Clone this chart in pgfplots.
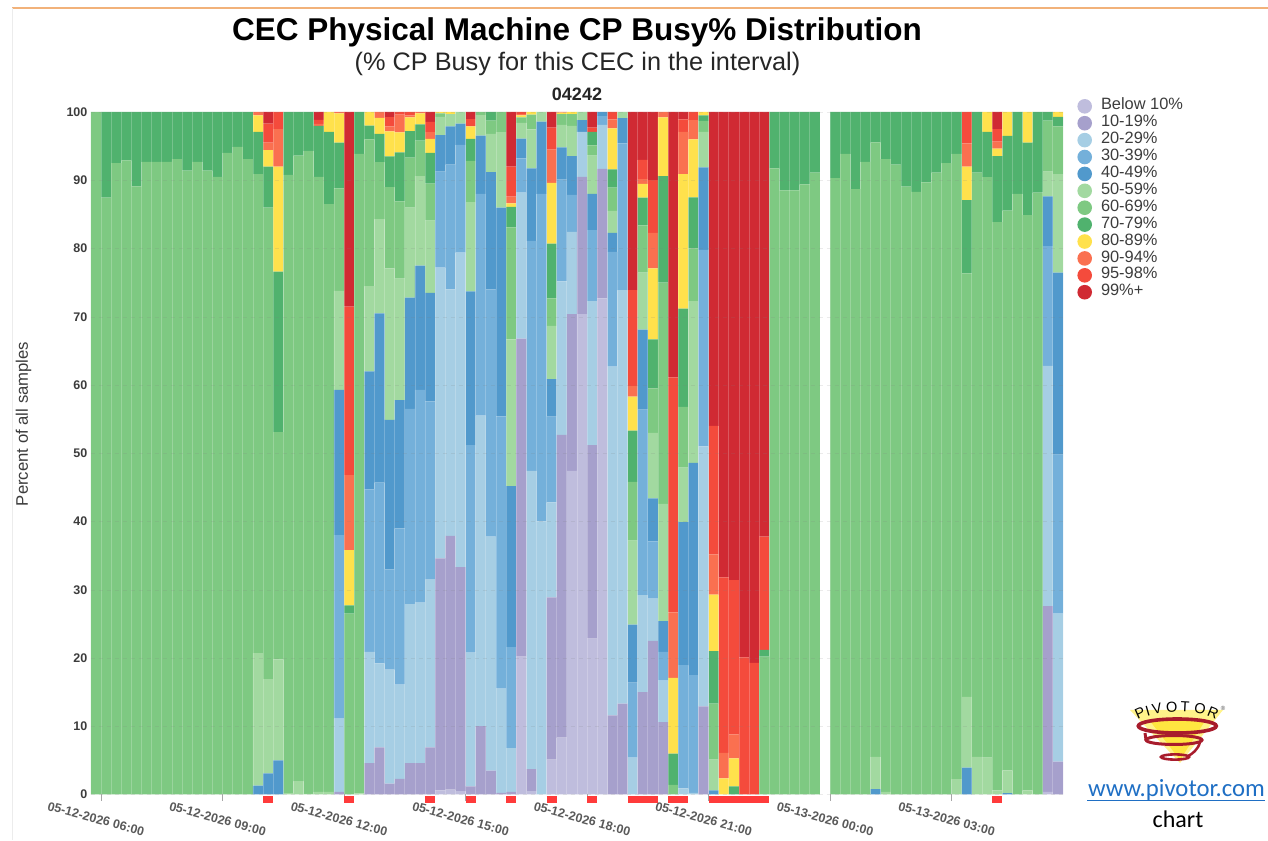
\documentclass[border=0pt]{standalone}
\usepackage{fontspec}
\setmainfont{Liberation Sans}
\newfontfamily\carlitofont{Carlito}
\usepackage{pgfplots}
\usepackage{pgfplotstable}
\pgfplotsset{compat=1.18}

\definecolor{ca}{HTML}{BFBDDD}
\definecolor{cb}{HTML}{A6A0CC}
\definecolor{cc}{HTML}{A6CEE4}
\definecolor{cd}{HTML}{74B0DA}
\definecolor{ce}{HTML}{5199CC}
\definecolor{cf}{HTML}{A2D9A0}
\definecolor{cg}{HTML}{7EC982}
\definecolor{ch}{HTML}{50B26E}
\definecolor{ci}{HTML}{FFE14C}
\definecolor{cj}{HTML}{FA7050}
\definecolor{cl}{HTML}{F44B3C}
\definecolor{cm}{HTML}{D02A33}
\definecolor{redmark}{HTML}{FF3B3B}
\definecolor{txt}{HTML}{3C3C3C}
\definecolor{frameline}{HTML}{F2B27A}
\definecolor{linkblue}{HTML}{1F6FC4}
\definecolor{swirl}{HTML}{A81C2C}
\definecolor{conepale}{HTML}{FFF38A}
\definecolor{conecore}{HTML}{FFE640}

% one row per 15 minute interval, percent of samples per busy band
\pgfplotstableread{
k a b c d e f g h i j l m
0 0 0 0 0 0 0 100 0 0 0 0 0
1 0 0 0 0 0 0 87.45 12.55 0 0 0 0
2 0 0 0 0 0 0 92.5 7.5 0 0 0 0
3 0 0 0 0 0 0 92.9 7.1 0 0 0 0
4 0 0 0 0 0 0 89.1 10.9 0 0 0 0
5 0 0 0 0 0 0 92.7 7.3 0 0 0 0
6 0 0 0 0 0 0 92.7 7.3 0 0 0 0
7 0 0 0 0 0 0 92.7 7.3 0 0 0 0
8 0 0 0 0 0 0 93.1 6.9 0 0 0 0
9 0 0 0 0 0 0 91.4 8.6 0 0 0 0
10 0 0 0 0 0 0 92.7 7.3 0 0 0 0
11 0 0 0 0 0 0 91.4 8.6 0 0 0 0
12 0 0 0 0 0 0 90.5 9.5 0 0 0 0
13 0 0 0 0 0 0 94 6 0 0 0 0
14 0 0 0 0 0 0 94.9 5.1 0 0 0 0
15 0 0 0 0 0 0 93.1 6.9 0 0 0 0
16 0 0 0 0 1.3 19.4 70.2 6.2 2.4 .5 0 0
17 0 0 0 0 3.1 13.8 69.1 6 2.4 1.1 2.8 1.7
18 0 0 0 0 5 14.8 33.3 23.5 15.4 5.5 2.5 0
19 0 0 0 0 0 .2 90.6 9.2 0 0 0 0
20 0 0 0 0 0 1.95 91.65 6.4 0 0 0 0
21 0 0 0 0 0 .1 94.2 5.7 0 0 0 0
22 0 0 0 0 0 .4 90.1 7.45 0 .3 .6 1.15
23 0 0 0 0 0 .4 86.1 10.6 2.9 0 0 0
24 0 .4 10.7 26.9 21.3 14.5 15 6.7 4.3 .2 0 0
25 0 0 0 0 0 0 26.5 1.2 8.1 11 24.7 28.5
26 0 0 0 0 0 .15 93.7 6.15 0 0 0 0
27 0 4.6 16.3 23.8 17.3 12.5 21.5 2 2 0 0 0
28 0 6.9 12.3 26.5 24.8 13.8 8.35 4.15 2.35 .85 0 0
29 0 1.6 16.7 14.7 21.9 22.2 11.9 4.5 3.65 .75 1.35 .75
30 0 2.3 13.8 22.9 18.8 17.8 11.3 7.2 2.9 2.6 .4 0
31 0 4.6 23.3 28.6 16.3 13.2 7.3 3.9 2 .3 .5 0
32 0 4.6 23.5 31.2 18.2 13.1 5.2 2.4 1.6 .2 0 0
33 0 6.9 24.6 26.1 15.9 10.6 5.4 4.5 2.05 1 1.5 1.45
34 .6 34 42.6 14.05 5.35 2.7 .5 0 .2 0 0 0
35 .7 37.2 36.1 18.3 5.6 1.8 0 0 .3 0 0 0
36 .5 32.8 46.1 15.8 3.1 1.7 0 0 0 0 0 0
37 0 1.2 19.6 30.4 22.5 13.1 6.05 3.2 1.85 0 1.05 1.05
38 0 10 45.5 32.5 8.55 3 .45 0 0 0 0 0
39 0 3.5 34.3 36.2 17.2 5.6 1.95 1.25 0 0 0 0
40 0 .25 15.25 39.9 30.6 11.05 2.95 0 0 0 0 0
41 0 .4 6.4 14.8 23.6 21.5 16.4 3 .5 1 4.4 8
42 20.2 46.6 21.4 5 2.9 2.3 .8 0 .3 .2 .3 0
43 .5 3.2 43.7 33.7 10.65 5.7 2.15 0 .4 0 0 0
44 0 0 40 48 10.6 1.4 0 0 0 0 0 0
45 5.1 23.8 13.9 12.55 5.5 7.8 4.05 8 8.9 4.9 3.2 2.3
46 8.35 44.35 22.5 14.9 4.7 3.3 1.6 0 .2 .1 0 0
47 47.4 23 12.05 5.4 5.7 4.4 1.75 0 .3 0 0 0
48 70.4 20.1 6.6 0 1.7 1.2 0 0 0 0 0 0
49 22.85 28.35 21.1 10.4 5.3 5.6 1.5 2 0 0 .6 2.3
50 72.7 18.95 6.45 1.3 .6 0 0 0 0 0 0 0
51 0 11.6 51.1 16.8 2.8 3.2 3.4 2.7 6 1.3 1.1 0
52 0 13.3 60.6 21.5 3.7 .9 0 0 0 0 0 0
53 0 0 5.4 11 8.5 12.3 8.6 7.5 5 1.55 14.05 26.1
54 0 15 14.2 27.2 11.7 8.35 6.95 4.05 2 .7 2.85 7
55 0 22.5 6.2 8.4 6.3 9.6 6.5 7.2 10.4 5.2 7.7 10
56 0 10.6 6.1 4.2 4.5 17.2 32.4 15.6 8.6 .8 0 0
57 0 0 0 0 0 0 1.4 4.6 11.1 9.6 34.4 38.9
58 0 0 .9 18.05 20.95 8 8.9 14.4 19.7 6.2 1.8 1.1
59 0 0 .25 17.25 31.1 23.7 7.7 7.5 8.5 2.8 1.2 0
60 0 12.9 38.1 28.8 12.1 5.2 1.6 .8 .5 0 0 0
61 0 0 0 0 .6 4.5 8.2 7.7 8.3 5.9 18.8 46
62 0 0 0 0 0 0 0 0 2.35 3.75 25.7 68.2
63 0 0 0 0 0 0 0 1.2 4.1 3.5 22.6 68.6
64 0 0 0 0 0 0 0 0 0 0 20.1 79.9
65 0 0 0 0 0 0 0 0 0 0 19.3 80.7
66 0 0 0 0 0 0 20.2 1 0 0 16.6 62.2
67 0 0 0 0 0 0 91.75 8.25 0 0 0 0
68 0 0 0 0 0 0 88.5 11.5 0 0 0 0
69 0 0 0 0 0 0 88.5 11.5 0 0 0 0
70 0 0 0 0 0 0 89.4 10.6 0 0 0 0
71 0 0 0 0 0 0 91.1 8.9 0 0 0 0
72 0 0 0 0 0 0 0 0 0 0 0 0
73 0 0 0 0 0 0 90.3 9.7 0 0 0 0
74 0 0 0 0 0 0 93.85 6.15 0 0 0 0
75 0 0 0 0 0 0 88.7 11.3 0 0 0 0
76 0 0 0 0 0 0 92.7 7.3 0 0 0 0
77 0 0 0 0 .8 4.7 90.05 4.45 0 0 0 0
78 0 0 0 0 0 .4 92.7 6.9 0 0 0 0
79 0 0 0 0 0 0 92.3 7.7 0 0 0 0
80 0 0 0 0 0 0 89.05 10.95 0 0 0 0
81 0 0 0 0 0 0 88.3 11.7 0 0 0 0
82 0 0 0 0 0 0 89.7 10.3 0 0 0 0
83 0 0 0 0 0 0 91.1 8.9 0 0 0 0
84 0 0 0 0 0 0 92.5 7.5 0 0 0 0
85 0 0 0 0 0 2.25 91.6 6.15 0 0 0 0
86 0 0 0 0 3.95 10.35 62.05 10.75 4.9 3.4 4.6 0
87 0 0 0 0 0 5.5 85.6 8.9 0 0 0 0
88 0 0 0 0 0 5.4 85.05 6.65 2.9 0 0 0
89 0 0 0 0 0 .6 83.25 9.7 1.1 1 1.85 2.5
90 0 0 0 0 .2 3.35 82 10.95 3.5 0 0 0
91 0 0 0 0 0 0 88 12 0 0 0 0
92 0 0 0 0 0 .6 84.3 10.6 4.5 0 0 0
93 0 0 0 0 0 0 88.2 11.8 0 0 0 0
94 .4 27.2 35.2 17.55 7.3 3.6 7.5 1.25 0 0 0 0
95 0 4.8 21.7 23.3 26.65 14.45 7 1.4 .7 0 0 0
}\busy

\begin{document}
\begin{tikzpicture}[x=1pt,y=1pt]
\useasboundingbox (0,0) rectangle (1268,840);

% frame remains of the report page
\draw[color=frameline,line width=1.2pt] (12,832) -- (1268,832);
\draw[color=gray!15,line width=.8pt] (12,832) -- (12,0);

\node[font=\fontsize{31.5}{34}\selectfont\bfseries,text=black] at (577,807.5) {CEC Physical Machine CP Busy\% Distribution};
\node[font=\fontsize{25.3}{28}\selectfont,text=black!85] at (577.5,776.5) {(\% CP Busy for this CEC in the interval)};
\node[font=\fontsize{18}{20}\selectfont\bfseries,text=black!85] at (577,745.5) {04242};

\begin{axis}[
  at={(90.9pt,45.5pt)}, anchor=south west,
  scale only axis, width=972.1pt, height=682.5pt,
  ybar stacked, bar width=1,
  xmin=-0.5, xmax=95.5, ymin=0, ymax=100,
  axis on top,
  axis line style={draw=none},
  ytick={0,10,...,100},
  ymajorgrids,
  major grid style={gray,opacity=.16,dash pattern=on 4pt off 4pt},
  xtick={0.5,12.5,24.5,36.5,48.5,60.5,72.5,84.5},
  xticklabels={05-12-2026 06:00,05-12-2026 09:00,05-12-2026 12:00,05-12-2026 15:00,05-12-2026 18:00,05-12-2026 21:00,05-13-2026 00:00,05-13-2026 03:00},
  minor xtick={-0.5,0.5,...,95.5},
  xminorgrids,
  minor x grid style={white,opacity=.22,line width=.8pt},
  minor tick length=0pt,
  major tick length=6pt,
  tick align=outside,
  xtick pos=bottom, ytick pos=left,
  x tick style={draw=gray!70,line width=.7pt},
  y tick style={draw=none},
  yticklabel style={font=\fontsize{12.5}{14}\selectfont\bfseries,text=txt,/pgf/number format/assume math mode=true,xshift=6pt},
  xticklabel style={font=\fontsize{12.5}{14}\selectfont\bfseries,text=black!65,rotate=-15,anchor=center,xshift=0pt,yshift=-19pt},
  ylabel={Percent of all samples},
  ylabel style={font=\fontsize{16.7}{18}\selectfont,text=txt,at={(axis description cs:0,0.543)},anchor=south,yshift=56pt},
  legend image code/.code={\fill[#1] (0pt,0pt) circle (7.3pt);},
  legend cell align=left,
  legend style={
    at={(axis description cs:1.0146,1.021)}, anchor=north west,
    draw=none, fill=none, inner sep=0pt, row sep=0pt, column sep=9pt,
    font=\fontsize{16.4}{17}\selectfont, text=txt,
    nodes={inner sep=0pt,text height=12.1pt,text depth=4.8pt},
  },
]
\addplot[fill=ca,draw=none] table[x=k,y=a] {\busy};
\addlegendentry{Below 10\%}
\addplot[fill=cb,draw=none] table[x=k,y=b] {\busy};
\addlegendentry{10-19\%}
\addplot[fill=cc,draw=none] table[x=k,y=c] {\busy};
\addlegendentry{20-29\%}
\addplot[fill=cd,draw=none] table[x=k,y=d] {\busy};
\addlegendentry{30-39\%}
\addplot[fill=ce,draw=none] table[x=k,y=e] {\busy};
\addlegendentry{40-49\%}
\addplot[fill=cf,draw=none] table[x=k,y=f] {\busy};
\addlegendentry{50-59\%}
\addplot[fill=cg,draw=none] table[x=k,y=g] {\busy};
\addlegendentry{60-69\%}
\addplot[fill=ch,draw=none] table[x=k,y=h] {\busy};
\addlegendentry{70-79\%}
\addplot[fill=ci,draw=none] table[x=k,y=i] {\busy};
\addlegendentry{80-89\%}
\addplot[fill=cj,draw=none] table[x=k,y=j] {\busy};
\addlegendentry{90-94\%}
\addplot[fill=cl,draw=none] table[x=k,y=l] {\busy};
\addlegendentry{95-98\%}
\addplot[fill=cm,draw=none] table[x=k,y=m] {\busy};
\addlegendentry{99\%+}
\end{axis}

% red flags under the intervals that hit the ceiling
\begin{axis}[
  at={(90.9pt,45.5pt)}, anchor=south west,
  scale only axis, width=972.1pt, height=682.5pt,
  xmin=-0.5, xmax=95.5, ymin=0, ymax=100,
  hide axis, clip=false,
]
\addplot[color=redmark,line width=7pt,unbounded coords=jump] table {
x y
16.5 -.7
17.5 -.7
nan nan
24.5 -.7
25.5 -.7
nan nan
32.5 -.7
33.5 -.7
nan nan
36.5 -.7
37.5 -.7
nan nan
40.5 -.7
41.5 -.7
nan nan
44.5 -.7
45.5 -.7
nan nan
48.5 -.7
49.5 -.7
nan nan
52.5 -.7
55.5 -.7
nan nan
56.5 -.7
58.5 -.7
nan nan
60.5 -.7
66.5 -.7
nan nan
88.5 -.7
89.5 -.7
};
\end{axis}

% Pivotor logo
\fill[color=conepale] (1130,130) -- (1223,130) -- (1180,77) -- cycle;
\fill[color=conecore] (1150,119) -- (1205,119) -- (1180,80) -- cycle;
\draw[color=swirl,line width=3.6pt] (1177.3,114) ellipse (39 and 7);
\draw[color=swirl,line width=3pt] (1174,100) ellipse (28 and 4.5);
\draw[color=swirl,line width=2.6pt] (1175,83) ellipse (14 and 2.6);
\draw[color=swirl,line width=3pt] (1146,100) -- (1145,107);
\draw[color=swirl,line width=2.5pt] (1200,98) .. controls (1198,90) and (1192,86) .. (1188,84);
\begin{scope}[font=\fontsize{14.5}{15}\selectfont,text=black]
\node[rotate=24] at (1140,127) {P};
\node[rotate=16] at (1147.7,129.3) {I};
\node[rotate=11] at (1157,131) {V};
\node[rotate=3] at (1171.7,133) {O};
\node[rotate=-3] at (1185,133) {T};
\node[rotate=-11] at (1200,131) {O};
\node[rotate=-22] at (1213,127) {R};
\end{scope}
\node[font=\fontsize{6}{7}\selectfont,text=black!70] at (1223,132) {®};

\node[font=\carlitofont\fontsize{24.7}{27}\selectfont,text=linkblue] at (1176.5,50) {www.pivotor.com};
\draw[color=linkblue,line width=.9pt] (1087,40) -- (1265,40);
\node[font=\carlitofont\fontsize{24}{27}\selectfont,text=black] at (1178,21) {chart};
\end{tikzpicture}
\end{document}
